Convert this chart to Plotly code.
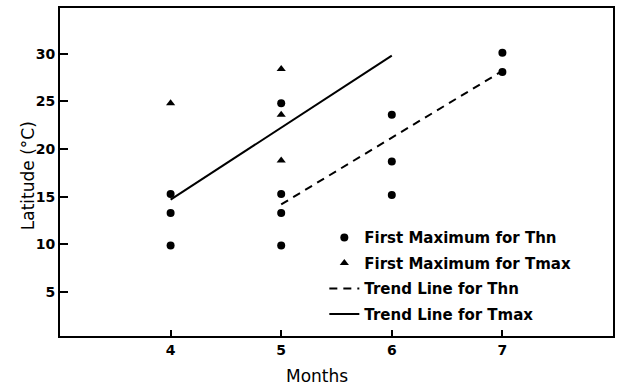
import plotly.graph_objects as go

# Data
thn_months = [4, 4, 4, 5, 5, 5, 5, 6, 6, 6, 7, 7]
thn_lat = [15.3, 13.3, 9.9, 24.8, 15.3, 13.3, 9.9, 23.6, 18.7, 15.2, 30.1, 28.1]

tmax_months = [4, 5, 5, 5]
tmax_lat = [24.8, 28.4, 23.6, 18.8]

trend_thn_months = [5, 7]
trend_thn_lat = [14.2, 28.2]

trend_tmax_months = [4, 6]
trend_tmax_lat = [14.7, 29.8]

x_ticks = [4, 5, 6, 7]
y_ticks = [5, 10, 15, 20, 25, 30]

FONT = "DejaVu Sans"

fig = go.Figure()
fig.add_trace(go.Scatter(x=thn_months, y=thn_lat, mode="markers",
                         name="First Maximum for Thn", legendgroup="a",
                         marker=dict(symbol="circle", size=8, color="black")))
fig.add_trace(go.Scatter(x=tmax_months, y=tmax_lat, mode="markers",
                         name="First Maximum for Tmax", legendgroup="b",
                         marker=dict(symbol="triangle-up", size=8, color="black")))
fig.add_trace(go.Scatter(x=trend_thn_months, y=trend_thn_lat, mode="lines",
                         name="Trend Line for Thn", legendgroup="c",
                         line=dict(color="black", width=2, dash="8px,6px")))
fig.add_trace(go.Scatter(x=trend_tmax_months, y=trend_tmax_lat, mode="lines",
                         name="Trend Line for Tmax", legendgroup="d",
                         line=dict(color="black", width=2)))

fig.update_layout(
    width=621, height=388,
    margin=dict(l=60, r=6, t=6, b=52),
    paper_bgcolor="white", plot_bgcolor="white",
    font=dict(family=FONT, color="black"),
    showlegend=True,
    legend=dict(x=0.478, y=0.35, xanchor="left", yanchor="top",
                bgcolor="rgba(0,0,0,0)", borderwidth=0,
                font=dict(family=FONT, size=15, color="black", weight="bold"),
                tracegroupgap=3, itemwidth=30),
    xaxis=dict(range=[3, 8], tickvals=x_ticks, ticktext=[str(v) for v in x_ticks],
               ticks="inside", ticklen=6, tickwidth=2, tickcolor="black",
               showline=True, linewidth=2, linecolor="black", mirror=True,
               showgrid=False, zeroline=False,
               tickfont=dict(family=FONT, size=14, color="black", weight="bold")),
    yaxis=dict(range=[0.4, 34.8], tickvals=y_ticks, ticktext=[str(v) for v in y_ticks],
               ticks="inside", ticklen=8, tickwidth=2, tickcolor="black",
               showline=True, linewidth=2, linecolor="black", mirror=True,
               showgrid=False, zeroline=False,
               tickfont=dict(family=FONT, size=14, color="black", weight="bold")),
    annotations=[
        dict(text="Months", xref="paper", yref="paper", x=0.465, y=-0.085,
             xanchor="center", yanchor="top", showarrow=False,
             font=dict(family=FONT, size=17, color="black")),
        dict(text="Latitude (°C)", xref="paper", yref="paper", x=-0.058, y=0.49,
             xanchor="center", yanchor="middle", showarrow=False, textangle=-90,
             font=dict(family=FONT, size=17, color="black")),
    ],
)

fig.write_html("out.html", config={"displayModeBar": False},
               post_script="document.body.style.margin='0';document.body.style.overflow='hidden';")
